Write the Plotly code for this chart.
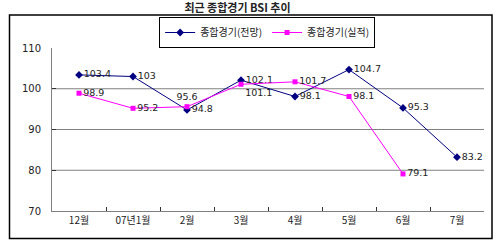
import plotly.graph_objects as go

categories = ["12월", "07년1월", "2월", "3월", "4월", "5월", "6월", "7월"]
forecast = [103.4, 103, 94.8, 102.1, 98.1, 104.7, 95.3, 83.2]
actual = [98.9, 95.2, 95.6, 101.1, 101.7, 98.1, 79.1, None]
forecast_pos = ["middle right"] * 8
actual_pos = ["middle right", "middle right", "top center", "bottom right",
              "middle right", "middle right", "middle right", "middle right"]
gridvals = [80, 90, 100]

FONT = "Noto Sans CJK KR, DejaVu Sans, sans-serif"
NUMFONT = "DejaVu Sans, sans-serif"

fig = go.Figure()
fig.add_trace(go.Scatter(
    x=categories, y=forecast, name="종합경기(전망)",
    mode="lines+markers+text",
    line=dict(color="#000080", width=1),
    marker=dict(symbol="diamond", size=6, color="#000080"),
    text=[str(v) for v in forecast], textposition=forecast_pos,
    textfont=dict(size=9.5, color="#222", family=NUMFONT),
))
fig.add_trace(go.Scatter(
    x=categories, y=actual, name="종합경기(실적)",
    mode="lines+markers+text",
    line=dict(color="#FF00FF", width=1),
    marker=dict(symbol="square", size=5, color="#FF00FF"),
    text=["" if v is None else str(v) for v in actual], textposition=actual_pos,
    textfont=dict(size=9.5, color="#222", family=NUMFONT),
))

for g in gridvals:
    fig.add_shape(type="line", xref="paper", x0=0, x1=1, yref="y", y0=g, y1=g,
                  line=dict(color="#808080", width=1), layer="below")

# outer chart border
fig.add_shape(type="rect", xref="paper", yref="paper",
              x0=(9.5 - 52) / 432, x1=(492 - 52) / 432,
              y0=(211 - 238.5) / 163, y1=(211 - 15) / 163,
              line=dict(color="black", width=1.5))

fig.update_layout(
    width=500, height=246,
    margin=dict(l=52, r=16, t=48, b=35),
    paper_bgcolor="white", plot_bgcolor="white",
    font=dict(family=FONT, size=10, color="#222"),
    title=dict(text="<b>최근 종합경기 BSI 추이</b>", x=0.475, xanchor="center",
               y=1 - 8.5 / 246, yanchor="middle", font=dict(size=11, color="#222")),
    showlegend=True,
    legend=dict(orientation="h", x=0.498, xanchor="center", y=(211 - 17) / 163,
                yanchor="top", bordercolor="black", borderwidth=1,
                bgcolor="white", font=dict(size=10), itemwidth=30,
                tracegroupgap=0),
    xaxis=dict(type="category", range=[-0.5, 7.5], showgrid=False,
               showline=True, linecolor="#808080", linewidth=1,
               ticks="inside", tickson="boundaries", ticklen=4, tickcolor="#333",
               tickfont=dict(size=10)),
    yaxis=dict(range=[70, 110], tickvals=[70, 80, 90, 100, 110], showgrid=False,
               zeroline=False, showline=True, linecolor="#808080", linewidth=1,
               ticks="inside", ticklen=4, tickcolor="#333", ticklabelstandoff=8,
               tickfont=dict(size=10, family=NUMFONT)),
)

fig.write_html("out.html")
